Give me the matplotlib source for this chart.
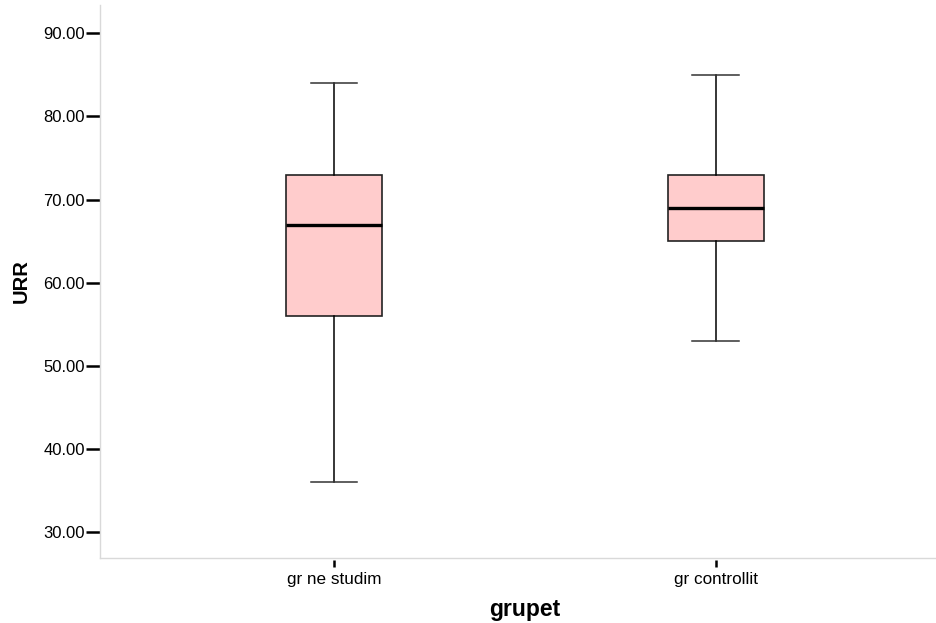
import matplotlib
matplotlib.use("Agg")
import matplotlib.pyplot as plt
from matplotlib.transforms import blended_transform_factory

plt.rcParams['font.family'] = ['Liberation Sans', 'DejaVu Sans']

# Five-number summaries per group
groups = ["gr ne studim", "gr controllit"]
whisker_low = [36.0, 53.0]
q1 = [56.0, 65.0]
median = [67.0, 69.0]
q3 = [73.0, 73.0]
whisker_high = [84.0, 85.0]
yticks = [30, 40, 50, 60, 70, 80, 90]

stats = []
for g, lo, a, m, b, hi in zip(groups, whisker_low, q1, median, q3, whisker_high):
    stats.append(dict(label=g, whislo=lo, q1=a, med=m, q3=b, whishi=hi, fliers=[]))

fig = plt.figure(figsize=(9.37, 6.23), dpi=100)
ax = fig.add_axes([100 / 937, 1 - 558 / 623, 835 / 937, 553 / 623])

positions = [1, 2]
ax.bxp(stats, positions=positions, widths=0.25, patch_artist=True, showfliers=False,
       boxprops=dict(facecolor="#ffcccc", edgecolor="#222222", linewidth=1.2),
       medianprops=dict(color="black", linewidth=2.4),
       whiskerprops=dict(color="black", linewidth=1.1),
       capprops=dict(color="#333333", linewidth=1.1),
       capwidths=0.123)

ax.set_xlim(0.3874, 2.5734)
ax.set_ylim(26.9, 93.4)
ax.set_yticks(yticks)
ax.set_yticklabels([f"{v:.2f}" for v in yticks], fontsize=12)
ax.set_xticks(positions)
ax.set_xticklabels(groups, fontsize=12.3)

for s in ("top", "right"):
    ax.spines[s].set_visible(False)
for s in ("left", "bottom"):
    ax.spines[s].set_color("#d9d9d9")
    ax.spines[s].set_linewidth(1.0)

ax.tick_params(axis="y", direction="out", length=10, width=1.8, color="black", pad=1)
ax.tick_params(axis="x", length=0, pad=10)

# category ticks sit slightly below the axis line
trans = blended_transform_factory(ax.transData, ax.transAxes)
for p in positions:
    ax.plot([p, p], [-0.004, -0.017], color="black", linewidth=1.8,
            transform=trans, clip_on=False, solid_capstyle="butt")

ax.set_ylabel("URR", fontsize=14.5, fontweight="bold", labelpad=9)
ax.set_xlabel("grupet", fontsize=16.5, fontweight="bold", labelpad=9)
ax.xaxis.set_label_coords(0.509, -0.072)

fig.savefig("out.png", dpi=100)
